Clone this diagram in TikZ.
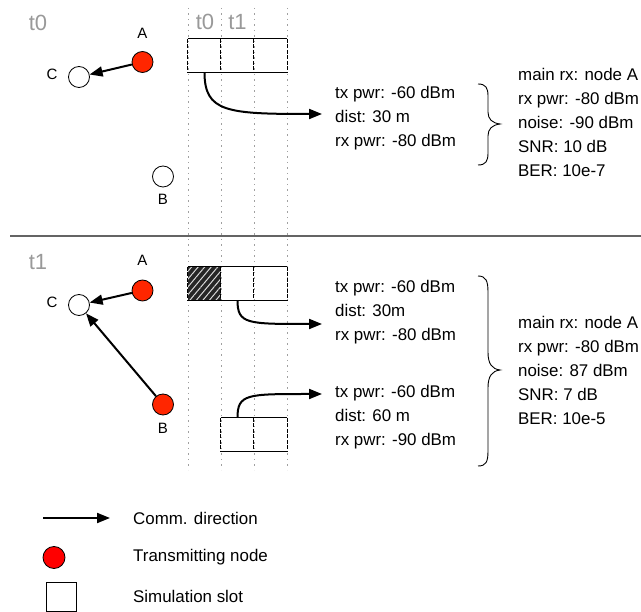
\documentclass[tikz,border=0pt]{standalone}
\usepackage{fontspec}
\setmainfont{Liberation Sans}
\usetikzlibrary{arrows.meta,patterns.meta}

\definecolor{txred}{RGB}{255,38,0}
\definecolor{lgred}{RGB}{255,0,0}
\definecolor{timegray}{RGB}{153,153,153}
\definecolor{guidegray}{RGB}{160,160,160}
\definecolor{sepgray}{RGB}{100,100,100}

\tikzset{
  txnode/.style={circle, draw=black, line width=0.8pt, fill=txred, minimum size=21pt, inner sep=0pt},
  rxnode/.style={circle, draw=black, line width=0.8pt, fill=white, minimum size=21pt, inner sep=0pt},
  nodelbl/.style={font=\fontsize{15}{17}\selectfont, inner sep=0pt},
  timelbl/.style={text=timegray, font=\fontsize{22}{24}\selectfont, inner sep=0pt},
  info/.style={align=left, anchor=west, inner xsep=13pt, inner ysep=0pt, font=\fontsize{16.9}{24}\selectfont},
  legendtxt/.style={anchor=west, inner sep=0pt, font=\fontsize{16.9}{20}\selectfont},
  comm/.style={line width=2pt, -{Triangle[length=13pt,width=10pt]}},
  guide/.style={guidegray, line width=0.8pt, dash pattern=on 1.5pt off 4pt},
  slotcell/.style={minimum width=33pt, minimum height=33pt, inner sep=0pt, draw=none},
  slotedge/.style={line width=0.9pt},
  slotdiv/.style={line width=0.9pt, dash pattern=on 4pt off 1.5pt},
  bracestyle/.style={line width=0.9pt}
}

\begin{document}
\begin{tikzpicture}[x=1pt,y=-1pt]
\useasboundingbox (0,0) rectangle (641,612);

% time columns
\foreach \gx in {188,221,254,287}
  \draw[guide] (\gx,8) -- (\gx,470);
\node[timelbl] (hdr0) at (205,22) {t0};
\node[timelbl] (hdr1) at (237.5,22) {t1};

% separator between the two time steps
\draw[sepgray, line width=1.6pt] (10,236) -- (641,236);

% ---------------- step t0 ----------------
\node[timelbl] (step0) at (38,23) {t0};

\node[txnode] (A0) at (142.5,62) {};
\node[rxnode] (C0) at (79,77) {};
\node[rxnode] (B0) at (163,176.5) {};
\node[nodelbl] (lA0) at (142.5,33) {A};
\node[nodelbl] (lC0) at (52,74) {C};
\node[nodelbl] (lB0) at (163,199) {B};
\draw[comm] (A0) -- (C0);

\node[slotcell] (p0) at (204.5,55.5) {};
\node[slotcell] (p1) at (237.5,55.5) {};
\node[slotcell] (p2) at (270.5,55.5) {};
\draw[slotedge] (p0.north west) -- (p2.north east);
\draw[slotedge] (p0.south west) -- (p2.south east);
\foreach \c in {p0,p1,p2}
  \draw[slotdiv] (\c.north west) -- (\c.south west);
\draw[slotdiv] (p2.north east) -- (p2.south east);

\node[info] (i0) at (322,118) {tx pwr: -60 dBm\\dist: 30 m\\rx pwr: -80 dBm};
\draw[comm] (p0.south) .. controls +(0,40) and +(-95,0) .. ([yshift=4pt]i0.west);

\draw[bracestyle] (478,84) .. controls (486,84) and (488,88) .. (488,96) -- (488,112)
  .. controls (488,119) and (492,123) .. (500,124)
  .. controls (492,125) and (488,129) .. (488,136) -- (488,153)
  .. controls (488,161) and (486,165) .. (478,165);

\node[info, inner xsep=0pt] (r0) at (518,122.5) {main rx: node A\\rx pwr: -80 dBm\\noise: -90 dBm\\SNR: 10 dB\\BER: 10e-7};

% ---------------- step t1 ----------------
\node[timelbl] (step1) at (38,262) {t1};

\node[txnode] (A1) at (142.5,290.5) {};
\node[rxnode] (C1) at (79,305) {};
\node[txnode] (B1) at (163,404.5) {};
\node[nodelbl] (lA1) at (142.5,260) {A};
\node[nodelbl] (lC1) at (52,302) {C};
\node[nodelbl] (lB1) at (163,428) {B};
\draw[comm] (A1) -- (C1);
\draw[comm] (B1) -- (C1);

\node[slotcell] (q0) at (204.5,283.5) {};
\node[slotcell] (q1) at (237.5,283.5) {};
\node[slotcell] (q2) at (270.5,283.5) {};
\fill[black!85] (q0.north west) rectangle (q0.south east);
\fill[pattern={Lines[angle=50,distance=5pt,line width=1pt]}, pattern color=white!85!black]
  (q0.north west) rectangle (q0.south east);
\draw[slotedge] (q0.north west) -- (q2.north east);
\draw[slotedge] (q0.south west) -- (q2.south east);
\foreach \c in {q0,q1,q2}
  \draw[slotdiv] (\c.north west) -- (\c.south west);
\draw[slotdiv] (q2.north east) -- (q2.south east);

\node[slotcell] (u1) at (237.5,434.5) {};
\node[slotcell] (u2) at (270.5,434.5) {};
\draw[slotedge] (u1.north west) -- (u2.north east);
\draw[slotedge] (u1.south west) -- (u2.south east);
\foreach \c in {u1,u2}
  \draw[slotdiv] (\c.north west) -- (\c.south west);
\draw[slotdiv] (u2.north east) -- (u2.south east);

\node[info] (i1) at (322,312) {tx pwr: -60 dBm\\dist: 30m\\rx pwr: -80 dBm};
\node[info] (i2) at (322,417) {tx pwr: -60 dBm\\dist: 60 m\\rx pwr: -90 dBm};
\draw[comm] (q1.south) .. controls +(0,24) and +(-75,0) .. ([yshift=-12pt]i1.west);
\draw[comm] (u1.north) .. controls +(0,-24) and +(-75,0) .. ([yshift=23pt]i2.west);

\draw[bracestyle] (478,276) .. controls (486,276) and (488,281) .. (488,292) -- (488,352)
  .. controls (488,364) and (492,369) .. (500,370)
  .. controls (492,371) and (488,376) .. (488,388) -- (488,451)
  .. controls (488,462) and (486,466) .. (478,466);

\node[info, inner xsep=0pt] (r1) at (518,370) {main rx: node A\\rx pwr: -80 dBm\\noise: 87 dBm\\SNR: 7 dB\\BER: 10e-5};

% ---------------- legend ----------------
\coordinate (lg0) at (43,518);
\coordinate (lg1) at (110,518);
\draw[comm] (lg0) -- (lg1);
\node[legendtxt] (lgt0) at (133,518) {Comm. direction};

\node[txnode, fill=lgred, minimum size=22pt] (lgtx) at (54,557.5) {};
\node[legendtxt] (lgt1) at (133,557) {Transmitting node};

\node[draw, line width=0.9pt, minimum width=30pt, minimum height=29pt, inner sep=0pt] (lgslot) at (61,596.5) {};
\node[legendtxt] (lgt2) at (133,596) {Simulation slot};
\end{tikzpicture}
\end{document}
